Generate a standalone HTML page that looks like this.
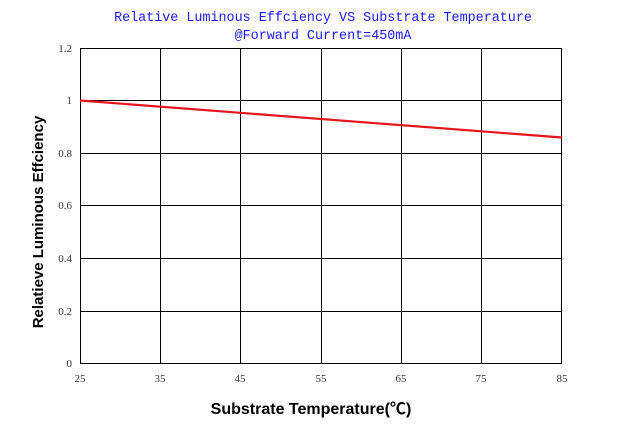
<!DOCTYPE html>
<html><head><meta charset="utf-8"><style>
html,body{margin:0;padding:0;background:#fff;}
</style></head><body>
<svg width="617" height="438" xmlns="http://www.w3.org/2000/svg" style="display:block">
<g font-family="Liberation Mono, monospace" font-size="13.4" fill="#1a1aff" text-anchor="middle">
<text x="323" y="21">Relative Luminous Effciency VS Substrate Temperature</text>
<text x="323" y="39">@Forward Current=450mA</text>
</g>
<g stroke="#000" stroke-width="1" fill="none">
<rect x="80.5" y="48.5" width="481" height="315"/>
<line x1="160.5" y1="48" x2="160.5" y2="363"/>
<line x1="240.5" y1="48" x2="240.5" y2="363"/>
<line x1="321.5" y1="48" x2="321.5" y2="363"/>
<line x1="401.5" y1="48" x2="401.5" y2="363"/>
<line x1="481.5" y1="48" x2="481.5" y2="363"/>
<line x1="80" y1="100.5" x2="562" y2="100.5"/>
<line x1="80" y1="153.5" x2="562" y2="153.5"/>
<line x1="80" y1="205.5" x2="562" y2="205.5"/>
<line x1="80" y1="258.5" x2="562" y2="258.5"/>
<line x1="80" y1="311.5" x2="562" y2="311.5"/>
</g>
<line x1="80" y1="100.5" x2="562" y2="137.5" stroke="#e8141b" stroke-width="2.2"/>
<g font-family="Liberation Serif, serif" font-size="11" fill="#333" text-anchor="end">
<text x="72" y="52">1.2</text>
<text x="72" y="104">1</text>
<text x="72" y="157">0.8</text>
<text x="72" y="209">0.6</text>
<text x="72" y="262">0.4</text>
<text x="72" y="315">0.2</text>
<text x="72" y="367">0</text>
</g>
<g font-family="Liberation Serif, serif" font-size="11" fill="#333" text-anchor="middle">
<text x="80" y="382">25</text>
<text x="160" y="382">35</text>
<text x="240" y="382">45</text>
<text x="321" y="382">55</text>
<text x="401" y="382">65</text>
<text x="481" y="382">75</text>
<text x="562" y="382">85</text>
</g>
<text x="311" y="414" font-family="Liberation Sans, 'Noto Sans CJK SC', sans-serif" font-size="16" font-weight="bold" text-anchor="middle">Substrate Temperature(℃)</text>
<text transform="translate(43,222) rotate(-90)" font-family="Liberation Sans, sans-serif" font-size="15" font-weight="bold" text-anchor="middle">Relatieve Luminous Effciency</text>
</svg>
</body></html>
